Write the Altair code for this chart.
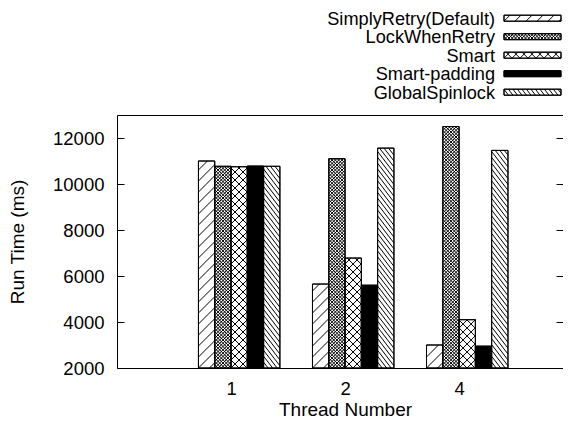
import altair as alt
import pandas as pd

# ---------------- data ----------------
threads = ["1", "2", "4"]
methods = ["SimplyRetry(Default)", "LockWhenRetry", "Smart", "Smart-padding", "GlobalSpinlock"]
simply_retry = [11000, 5650, 3000]
lock_when_retry = [10770, 11100, 12500]
smart = [10750, 6780, 4100]
smart_padding = [10780, 5600, 2950]
global_spinlock = [10770, 11560, 11460]
y_ticks = [2000, 4000, 6000, 8000, 10000, 12000]

series = [simply_retry, lock_when_retry, smart, smart_padding, global_spinlock]

# ---------------- style ----------------
FONT = "Liberation Sans"
fills = ["white", "white", "white", "black", "white"]
# hatch specs per method: (direction, spacing px, slope)
hatches = [
    [("up", 11, 1.0)],
    [("up", 3.3, 1.0), ("down", 3.3, 1.0)],
    [("up", 8, 1.0), ("down", 8, 1.0)],
    [],
    [("down", 4.5, 1.3)],
]

PLOT_W, PLOT_H = 446, 253
PX_UNIT = 16.29
X_MIN = -5.0
X_MAX = X_MIN + PLOT_W / PX_UNIT
Y_MIN, Y_MAX = 2000, 13000
PY = PLOT_H / (Y_MAX - Y_MIN)
CLUSTER = len(methods) + 2

# legend layout (plot pixel coordinates)
LEG_TEXT_X = 378
LEG_SW_X = 387
LEG_SW_W = 57
LEG_SW_H = 6
LEG_Y0 = -96.8
LEG_DY = 18.5
LEG_FONT = 18.2

# ---------------- tables ----------------
bar_rows, hatch_rows = [], []
for gi, t in enumerate(threads):
    for mi, (name, vals) in enumerate(zip(methods, series)):
        bar_rows.append({"thread": t, "method": name, "gi": gi, "mi": mi, "value": vals[gi]})
        for d, s, m in hatches[mi]:
            hatch_rows.append({"method": name, "gi": gi, "mi": mi, "value": vals[gi],
                               "dir": d, "s": s, "m": m})
bars = pd.DataFrame(bar_rows)
bar_hatch = pd.DataFrame(hatch_rows)

leg_rows, leg_hatch_rows = [], []
for mi, name in enumerate(methods):
    leg_rows.append({"method": name, "mi": mi})
    for d, s, m in hatches[mi]:
        leg_hatch_rows.append({"method": name, "mi": mi, "dir": d, "s": s, "m": m})
legend = pd.DataFrame(leg_rows)
leg_hatch = pd.DataFrame(leg_hatch_rows)

fill_scale = alt.Scale(domain=methods, range=fills)
x_scale = alt.Scale(domain=[X_MIN, X_MAX], nice=False, zero=False)
y_scale = alt.Scale(domain=[Y_MIN, Y_MAX], nice=False, zero=False)

label_vals = [gi * CLUSTER + 2 for gi in range(len(threads))]
label_expr = ""
for v, t in zip(label_vals[:-1], threads[:-1]):
    label_expr += f"datum.value == {v} ? '{t}' : "
label_expr += f"'{threads[-1]}'"


def hatch_calcs(ch, W, H):
    return (ch
        .transform_calculate(W=W)
        .transform_calculate(H=H)
        .transform_calculate(k0="datum.dir == 'up' ? ceil(-datum.H / (datum.s * datum.m)) : 1")
        .transform_calculate(k1="datum.dir == 'up' ? floor(datum.W / datum.s) + 1 : floor((datum.m * datum.W + datum.H) / (datum.s * datum.m)) + 1")
        .transform_calculate(ks="sequence(datum.k0, datum.k1)")
        .transform_flatten(["ks"])
        .transform_calculate(c="datum.ks * datum.s * datum.m")
        .transform_calculate(u1="datum.dir == 'up' ? max(0, datum.c / datum.m) : max(0, (datum.c - datum.H) / datum.m)")
        .transform_calculate(u2="datum.dir == 'up' ? min(datum.W, (datum.H + datum.c) / datum.m) : min(datum.W, datum.c / datum.m)")
        .transform_calculate(t1="datum.dir == 'up' ? datum.m * datum.u1 - datum.c : datum.c - datum.m * datum.u1")
        .transform_calculate(t2="datum.dir == 'up' ? datum.m * datum.u2 - datum.c : datum.c - datum.m * datum.u2")
        .transform_filter("datum.u2 - datum.u1 > 0.3")
    )


# ---------------- bars ----------------
bar_base = alt.Chart(bars).transform_calculate(
    left=f"datum.gi * {CLUSTER} + datum.mi"
).transform_calculate(right="datum.left + 1")

bar_layer = bar_base.mark_rect(stroke="black", strokeWidth=1).encode(
    x=alt.X("left:Q", scale=x_scale,
            axis=alt.Axis(orient="bottom", values=label_vals, labelExpr=label_expr, ticks=False,
                          tickSize=0, domain=False, grid=False, title="Thread Number",
                          labelFontSize=18.5, titleFontSize=19, labelPadding=11,
                          titlePadding=3, titleX=228, labelAngle=0, labelFont=FONT,
                          titleFont=FONT, labelColor="black", titleColor="black",
                          titleFontWeight="normal")),
    x2="right:Q",
    y=alt.Y("value:Q", scale=y_scale,
            axis=alt.Axis(orient="left", values=y_ticks, ticks=False, tickSize=0, domain=False,
                          grid=False, title="Run Time (ms)", labelFontSize=18.5,
                          titleFontSize=19, labelPadding=13, titlePadding=25, format="d",
                          labelFont=FONT, titleFont=FONT, labelColor="black",
                          titleColor="black", titleFontWeight="normal")),
    y2=alt.datum(Y_MIN),
    fill=alt.Fill("method:N", scale=fill_scale, legend=None),
)

# layers sharing the x scale leave the x axis unspecified so the bars' axis is kept
outline_layer = bar_base.mark_rect(stroke="black", strokeWidth=1, fillOpacity=0).encode(
    x=alt.X("left:Q", scale=x_scale),
    x2="right:Q",
    y=alt.Y("value:Q", scale=y_scale, axis=None),
    y2=alt.datum(Y_MIN),
)

bh = alt.Chart(bar_hatch).transform_calculate(
    left=f"datum.gi * {CLUSTER} + datum.mi"
)
bh = hatch_calcs(bh, f"{PX_UNIT}", f"(datum.value - {Y_MIN}) * {PY}")
bar_hatch_layer = (bh
    .transform_calculate(hx1=f"datum.left + datum.u1 / {PX_UNIT}")
    .transform_calculate(hx2=f"datum.left + datum.u2 / {PX_UNIT}")
    .transform_calculate(hy1=f"{Y_MIN} + datum.t1 / {PY}")
    .transform_calculate(hy2=f"{Y_MIN} + datum.t2 / {PY}")
    .mark_rule(color="black", strokeWidth=1)
    .encode(
        x=alt.X("hx1:Q", scale=x_scale),
        x2="hx2:Q",
        y=alt.Y("hy1:Q", scale=y_scale, axis=None),
        y2="hy2:Q",
    ))

# inward ticks (left and right)
tick_left = alt.Chart(bars).mark_point(opacity=0).encode(
    y=alt.Y("value:Q", scale=y_scale,
            axis=alt.Axis(orient="left", offset=-7, tickSize=7, values=y_ticks, labels=False,
                          domain=False, grid=False, title=None, tickColor="black"))
)
tick_right = alt.Chart(bars).mark_point(opacity=0).encode(
    y=alt.Y("value:Q", scale=y_scale,
            axis=alt.Axis(orient="right", offset=-7, tickSize=7, values=y_ticks, labels=False,
                          domain=False, grid=False, title=None, tickColor="black"))
)

# ---------------- legend ----------------
leg_base = alt.Chart(legend).transform_calculate(
    ly=f"{LEG_Y0} + datum.mi * {LEG_DY}"
).transform_calculate(
    ly0=f"datum.ly - {LEG_SW_H / 2}", ly1=f"datum.ly + {LEG_SW_H / 2}",
    lx0=f"{LEG_SW_X}", lx1=f"{LEG_SW_X + LEG_SW_W}", tx=f"{LEG_TEXT_X}",
    ty="datum.ly + 6.3",
)
leg_text = leg_base.mark_text(align="right", baseline="alphabetic", fontSize=LEG_FONT,
                              font=FONT, color="black").encode(
    x=alt.X("tx:Q", scale=None, axis=None), y=alt.Y("ty:Q", scale=None, axis=None),
    text="method:N")
leg_swatch = leg_base.mark_rect(stroke="black", strokeWidth=1).encode(
    x=alt.X("lx0:Q", scale=None, axis=None), x2="lx1:Q",
    y=alt.Y("ly0:Q", scale=None, axis=None), y2="ly1:Q",
    fill=alt.Fill("method:N", scale=fill_scale, legend=None))

lh = alt.Chart(leg_hatch).transform_calculate(
    ly=f"{LEG_Y0} + datum.mi * {LEG_DY}"
)
lh = hatch_calcs(lh, f"{LEG_SW_W}", f"{LEG_SW_H}")
leg_hatch_layer = (lh
    .transform_calculate(hx1=f"{LEG_SW_X} + datum.u1")
    .transform_calculate(hx2=f"{LEG_SW_X} + datum.u2")
    .transform_calculate(hy1=f"datum.ly + {LEG_SW_H / 2} - datum.t1")
    .transform_calculate(hy2=f"datum.ly + {LEG_SW_H / 2} - datum.t2")
    .mark_rule(color="black", strokeWidth=1)
    .encode(
        x=alt.X("hx1:Q", scale=None, axis=None), x2="hx2:Q",
        y=alt.Y("hy1:Q", scale=None, axis=None), y2="hy2:Q",
    ))
leg_outline = leg_base.mark_rect(stroke="black", strokeWidth=1, fillOpacity=0).encode(
    x=alt.X("lx0:Q", scale=None, axis=None), x2="lx1:Q",
    y=alt.Y("ly0:Q", scale=None, axis=None), y2="ly1:Q")

chart = alt.layer(
    bar_layer, bar_hatch_layer, outline_layer, tick_left, tick_right,
    leg_swatch, leg_hatch_layer, leg_outline, leg_text,
).resolve_axis(y="independent").properties(
    width=PLOT_W, height=PLOT_H,
    background="white",
    autosize=alt.AutoSizeParams(type="none"),
    padding={"left": 109, "top": 107, "right": 0, "bottom": 51},
).configure_view(stroke="black", strokeWidth=1).configure_axis(
    labelFont=FONT, titleFont=FONT, labelColor="black", titleColor="black",
    titleFontWeight="normal",
)

chart.save("out.html", embed_options={"renderer": "svg", "actions": False})
